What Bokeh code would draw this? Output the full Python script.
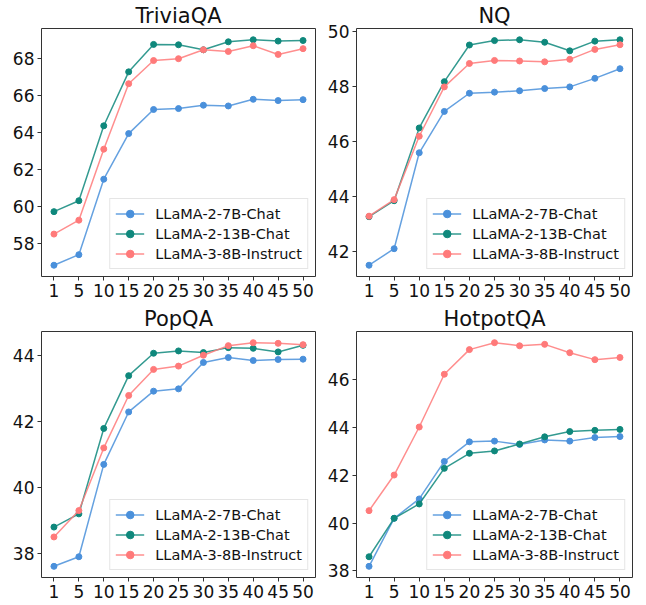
from bokeh.plotting import figure
from bokeh.layouts import gridplot
from bokeh.models import Range1d, FactorRange, FixedTicker, Legend, LegendItem
from bokeh.embed import file_html
from bokeh.resources import INLINE

k_values = ["1", "5", "10", "15", "20", "25", "30", "35", "40", "45", "50"]
series_names = ["LLaMA-2-7B-Chat", "LLaMA-2-13B-Chat", "LLaMA-3-8B-Instruct"]
colors = ["#4A90DB", "#0F887C", "#FF7A7A"]

trivia_7b = [56.84, 57.41, 61.48, 63.94, 65.24, 65.29, 65.47, 65.43, 65.79, 65.72, 65.77]
trivia_13b = [59.73, 60.32, 64.36, 67.27, 68.75, 68.73, 68.46, 68.89, 69.00, 68.93, 68.96]
trivia_8b = [58.52, 59.27, 63.10, 66.63, 67.88, 67.98, 68.46, 68.37, 68.68, 68.21, 68.52]
trivia_ticks = [58, 60, 62, 64, 66, 68]

nq_7b = [41.51, 42.11, 45.59, 47.09, 47.75, 47.79, 47.84, 47.92, 47.98, 48.29, 48.64]
nq_13b = [43.27, 43.85, 46.49, 48.17, 49.50, 49.66, 49.69, 49.60, 49.29, 49.64, 49.69]
nq_8b = [43.29, 43.89, 46.19, 47.98, 48.83, 48.94, 48.92, 48.89, 48.98, 49.34, 49.51]
nq_ticks = [42, 44, 46, 48, 50]

pop_7b = [37.62, 37.91, 40.71, 42.30, 42.93, 43.00, 43.80, 43.95, 43.86, 43.89, 43.90]
pop_13b = [38.81, 39.21, 41.80, 43.40, 44.08, 44.15, 44.10, 44.25, 44.23, 44.12, 44.32]
pop_8b = [38.51, 39.31, 41.21, 42.80, 43.59, 43.69, 44.02, 44.31, 44.40, 44.38, 44.34]
pop_ticks = [38, 40, 42, 44]

hotpot_7b = [38.19, 40.20, 41.01, 42.58, 43.40, 43.43, 43.29, 43.48, 43.43, 43.58, 43.62]
hotpot_13b = [38.59, 40.20, 40.80, 42.29, 42.92, 43.02, 43.31, 43.61, 43.83, 43.88, 43.92]
hotpot_8b = [40.52, 42.01, 44.02, 46.23, 47.26, 47.55, 47.42, 47.48, 47.13, 46.84, 46.93]
hotpot_ticks = [38, 40, 42, 44, 46]

FONT = "DejaVu Sans"


def make_panel(title, data, ticks, width, height, bl, br, bt, bb):
    lo = min(min(s) for s in data)
    hi = max(max(s) for s in data)
    span = hi - lo
    p = figure(
        x_range=FactorRange(*k_values, range_padding=0),
        y_range=Range1d(lo - 0.05 * span, hi + 0.05 * span),
        width=width, height=height,
        output_backend="svg", toolbar_location=None,
        min_border_left=bl, min_border_right=br,
        min_border_top=bt, min_border_bottom=bb,
    )
    p.title.text = title
    p.title.text_font = FONT
    p.title.text_font_size = "21px"
    p.title.text_font_style = "normal"
    p.title.align = "center"
    p.title.text_color = "#111111"
    p.title.standoff = 2
    p.xgrid.visible = False
    p.ygrid.visible = False
    p.outline_line_color = "#333333"
    p.outline_line_width = 1
    p.yaxis.ticker = FixedTicker(ticks=ticks)
    for ax in (p.xaxis[0], p.yaxis[0]):
        ax.axis_line_color = None
        ax.major_tick_in = 0
        ax.major_tick_out = 4
        ax.major_tick_line_color = "#333333"
        ax.minor_tick_line_color = None
        ax.major_label_text_font = FONT
        ax.major_label_text_font_size = "17px"
        ax.major_label_text_color = "#111111"
        ax.major_label_standoff = 3
    items = []
    for name, vals, c in zip(series_names, data, colors):
        r1 = p.line(k_values, vals, line_color=c, line_width=1.5, line_alpha=0.85)
        r2 = p.scatter(k_values, vals, size=6, fill_color=c, line_color=c)
        items.append(LegendItem(label=name, renderers=[r1, r2]))
    leg = Legend(items=items, location="bottom_right")
    leg.margin = 7
    leg.padding = 5
    leg.spacing = 1
    leg.label_height = 19
    leg.glyph_height = 19
    leg.glyph_width = 29
    leg.label_standoff = 11
    leg.label_text_font = FONT
    leg.label_text_font_size = "14.5px"
    leg.label_text_color = "#111111"
    leg.border_line_color = "#cccccc"
    leg.border_line_width = 1
    leg.background_fill_alpha = 0.85
    p.add_layout(leg)
    return p


p1 = make_panel("TriviaQA", [trivia_7b, trivia_13b, trivia_8b], trivia_ticks, 324, 303, 41, 9, 27, 27)
p2 = make_panel("NQ", [nq_7b, nq_13b, nq_8b], nq_ticks, 320, 303, 32, 12, 27, 27)
p3 = make_panel("PopQA", [pop_7b, pop_13b, pop_8b], pop_ticks, 324, 300, 41, 9, 28, 26)
p4 = make_panel("HotpotQA", [hotpot_7b, hotpot_13b, hotpot_8b], hotpot_ticks, 320, 300, 32, 12, 28, 26)

grid = gridplot([[p1, p2], [p3, p4]], toolbar_location=None)

open("out.html", "w").write(file_html(grid, INLINE))
